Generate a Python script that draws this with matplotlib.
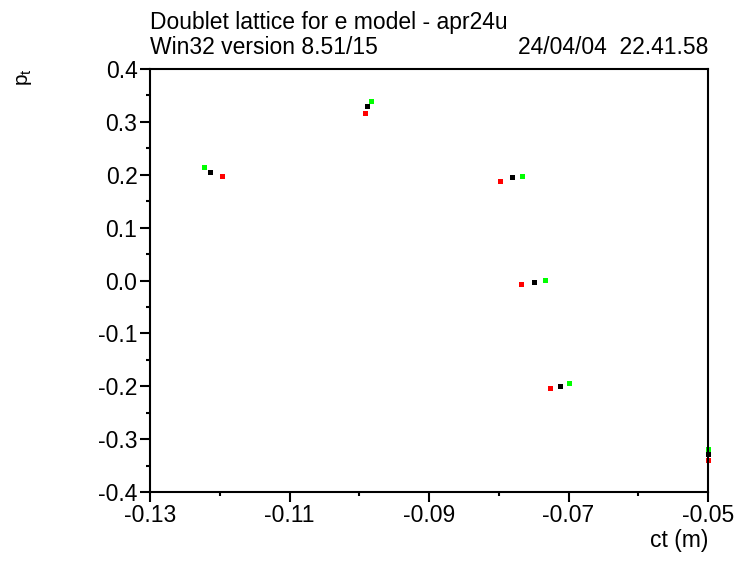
import matplotlib
matplotlib.use("Agg")
import matplotlib.pyplot as plt
from matplotlib.ticker import MultipleLocator, FixedLocator

plt.rcParams['font.family'] = ['Liberation Sans', 'DejaVu Sans']
plt.rcParams['mathtext.fontset'] = 'custom'
plt.rcParams['mathtext.rm'] = 'Liberation Sans'

# Data: three particle tracks (green, black, red) at six turns
ct_green = [-0.1223, -0.0983, -0.0767, -0.0734, -0.0699, -0.0500]
pt_green = [0.2147, 0.3395, 0.1976, 0.0010, -0.1939, -0.3187]
ct_black = [-0.1214, -0.0989, -0.0781, -0.0750, -0.0712, -0.0500]
pt_black = [0.2052, 0.3300, 0.1957, -0.0028, -0.1995, -0.3281]
ct_red = [-0.1197, -0.0992, -0.0798, -0.0768, -0.0727, -0.0500]
pt_red = [0.1976, 0.3168, 0.1882, -0.0066, -0.2033, -0.3395]

xticks = [-0.13, -0.11, -0.09, -0.07, -0.05]
yticks = [0.4, 0.3, 0.2, 0.1, 0.0, -0.1, -0.2, -0.3, -0.4]

fig = plt.figure(figsize=(7.38, 5.63), dpi=100)
ax = fig.add_axes([150/738, 1-492/563, 558/738, 423/563])

ms = 3.6
ax.plot(ct_green, pt_green, 's', color='#00ff00', ms=ms, mew=0, clip_on=False)
ax.plot(ct_red, pt_red, 's', color='#ff0000', ms=ms, mew=0, clip_on=False)
ax.plot(ct_black, pt_black, 's', color='black', ms=ms, mew=0, clip_on=False)

ax.set_xlim(-0.13, -0.05)
ax.set_ylim(-0.4, 0.4)
ax.xaxis.set_major_locator(FixedLocator(xticks))
ax.yaxis.set_major_locator(FixedLocator(yticks))
ax.xaxis.set_minor_locator(MultipleLocator(0.01))
ax.yaxis.set_minor_locator(MultipleLocator(0.05))
ax.set_xticklabels([f"{v:.2f}" for v in xticks])
ax.set_yticklabels([f"{v:.1f}" for v in yticks])
ax.tick_params(which='major', direction='out', length=7, width=1.5, labelsize=16.5, pad=2)
ax.tick_params(which='minor', direction='out', length=3, width=1.5)
for s in ax.spines.values():
    s.set_linewidth(1.5)

fs = 16.5
fig.text(150/738, 1-22/563, "Doublet lattice for e model - apr24u", fontsize=fs, va='center', ha='left')
fig.text(150/738, 1-47/563, "Win32 version 8.51/15", fontsize=fs, va='center', ha='left')
fig.text(708/738, 1-47/563, "24/04/04  22.41.58", fontsize=fs, va='center', ha='right')
fig.text(708/738, 1-540/563, "ct (m)", fontsize=fs, va='center', ha='right')
fig.text(24/738, 1-77/563, r"$\mathrm{p_t}$", fontsize=15, va='center', ha='center', rotation=90)

fig.savefig("out.png", dpi=100)
